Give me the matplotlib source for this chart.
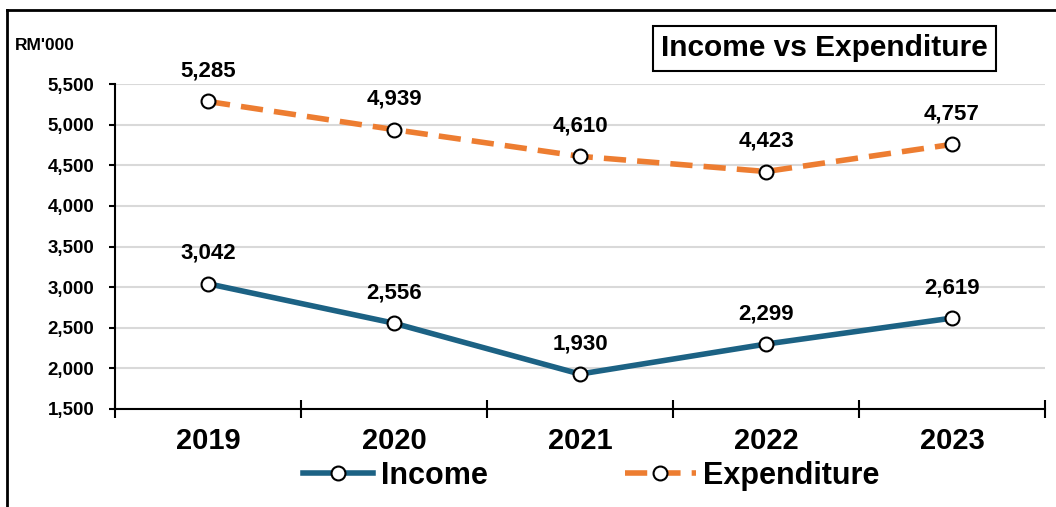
import matplotlib.pyplot as plt
import matplotlib.lines as mlines
import numpy as np

plt.rcParams['font.family'] = ['Liberation Sans', 'DejaVu Sans']
plt.rcParams['font.weight'] = 'bold'

years = ["2019", "2020", "2021", "2022", "2023"]
income = [3042, 2556, 1930, 2299, 2619]
expenditure = [5285, 4939, 4610, 4423, 4757]

blue = "#1c6284"
orange = "#ed7d31"

fig = plt.figure(figsize=(10.56, 5.07), dpi=100)
ax = fig.add_axes([0.1089, 0.1933, 0.8807, 0.641])

x = np.arange(len(years))
ax.plot(x, income, color=blue, lw=4, marker="o", ms=10, mfc="white",
        mec="black", mew=1.5, label="Income", zorder=3)
ax.plot(x, expenditure, color=orange, lw=4, ls=(0, (4, 2)), marker="o", ms=10,
        mfc="white", mec="black", mew=1.5, label="Expenditure", zorder=3)

for xi, v in zip(x, income):
    ax.annotate(f"{v:,}", (xi, v), xytext=(0, 18), textcoords="offset points",
                ha="center", va="baseline", fontsize=16, fontweight="bold")
for xi, v in zip(x, expenditure):
    ax.annotate(f"{v:,}", (xi, v), xytext=(0, 18), textcoords="offset points",
                ha="center", va="baseline", fontsize=16, fontweight="bold")

ax.set_xlim(-0.5, 4.5)
ax.set_ylim(1500, 5500)
ax.set_yticks(np.arange(1500, 5501, 500))
ax.set_yticklabels([f"{t:,}" for t in range(1500, 5501, 500)], fontsize=13.5, fontweight="bold")
ax.set_xticks(x)
ax.set_xticklabels(years, fontsize=21, fontweight="bold")
ax.set_xticks(np.arange(-0.5, 4.6, 1), minor=True)
ax.tick_params(axis="x", which="major", length=0, pad=13)
ax.tick_params(axis="x", which="minor", direction="inout", length=13, width=1.5)
ax.tick_params(axis="y", direction="out", length=4, width=1.5, pad=11)

ax.grid(axis="y", color="#d9d9d9", lw=1.5)
ax.set_axisbelow(True)
for s in ["top", "right"]:
    ax.spines[s].set_visible(False)
for s in ["left", "bottom"]:
    ax.spines[s].set_linewidth(1.5)

fig.text(0.014, 0.911, "RM'000", fontsize=12.5, fontweight="bold", va="center")
fig.text(0.781, 0.905, "Income vs Expenditure", fontsize=21.5, fontweight="bold",
         ha="center", va="center",
         bbox=dict(boxstyle="square,pad=0.28", fc="white", ec="black", lw=1.5))

fig.legend(loc="center", bbox_to_anchor=(0.56, 0.061), ncol=2, frameon=False,
           prop={"size": 22, "weight": "bold"}, handlelength=2.3, columnspacing=4.5,
           handletextpad=0.25)

# frame of the cropped screenshot
fig.add_artist(mlines.Line2D([0.0066, 0.0066], [0, 0.98], color="black", lw=2,
                             transform=fig.transFigure))
fig.add_artist(mlines.Line2D([0.0066, 1], [0.98, 0.98], color="black", lw=2,
                             transform=fig.transFigure))

fig.savefig("out.png", dpi=100)
